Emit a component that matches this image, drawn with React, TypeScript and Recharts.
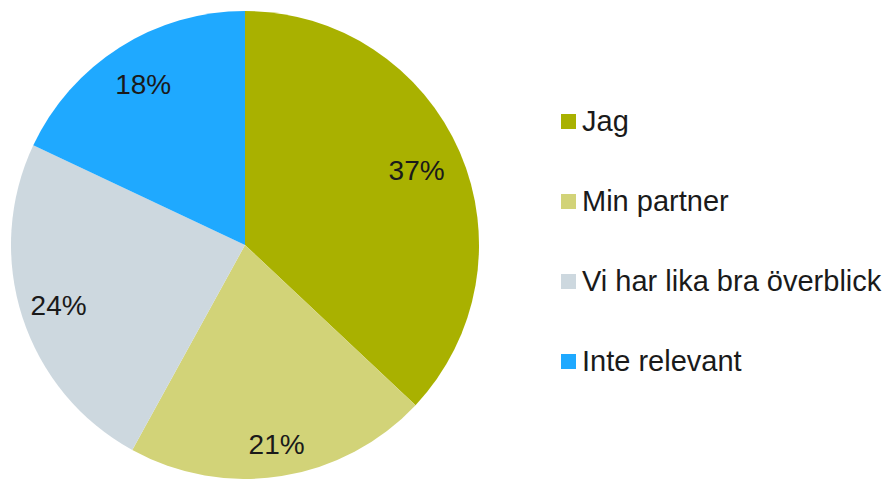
import { PieChart, Pie, Cell } from 'recharts';

const categories = ['Jag', 'Min partner', 'Vi har lika bra överblick', 'Inte relevant'];
const shares = [37, 21, 24, 18];
const colors = ['#A9B100', '#D2D378', '#CDD8DF', '#1FA9FF'];
// distance of each percent label from the pie centre
const labelRadius = [187, 202, 196, 190];

const data = categories.map((name, i) => ({ name, value: shares[i] }));

const RAD = Math.PI / 180;

const renderLabel = (props: any) => {
  const { cx, cy, midAngle, value, index } = props;
  const r = labelRadius[index];
  const x = cx + r * Math.cos(-midAngle * RAD);
  const y = cy + r * Math.sin(-midAngle * RAD);
  return (
    <text x={x} y={y} fill="#1a1a1a" fontSize={28} textAnchor="middle" dominantBaseline="central">
      {`${value}%`}
    </text>
  );
};

export default function App() {
  return (
    <div style={{ position: 'absolute', left: 0, top: 0, width: 889, height: 479, fontFamily: '"Liberation Sans", Arial, sans-serif' }}>
      <PieChart width={889} height={479} margin={{ top: 0, right: 0, bottom: 0, left: 0 }}>
        <Pie
          data={data}
          dataKey="value"
          nameKey="name"
          cx={245}
          cy={245}
          outerRadius={234}
          startAngle={90}
          endAngle={-270}
          stroke="none"
          label={renderLabel}
          labelLine={false}
          isAnimationActive={false}
        >
          {data.map((_, i) => (
            <Cell key={`cell-${i}`} fill={colors[i]} />
          ))}
        </Pie>
      </PieChart>
      <div style={{ position: 'absolute', left: 561, top: 0 }}>
        {categories.map((c, i) => (
          <div
            key={c}
            style={{ position: 'absolute', top: 121 + i * 80 - 16, display: 'flex', alignItems: 'center', height: 32, whiteSpace: 'nowrap' }}
          >
            <span style={{ width: 15, height: 15, background: colors[i], marginRight: 6, flex: 'none' }} />
            <span style={{ fontSize: 29, color: '#1a1a1a', lineHeight: '32px' }}>{c}</span>
          </div>
        ))}
      </div>
    </div>
  );
}
